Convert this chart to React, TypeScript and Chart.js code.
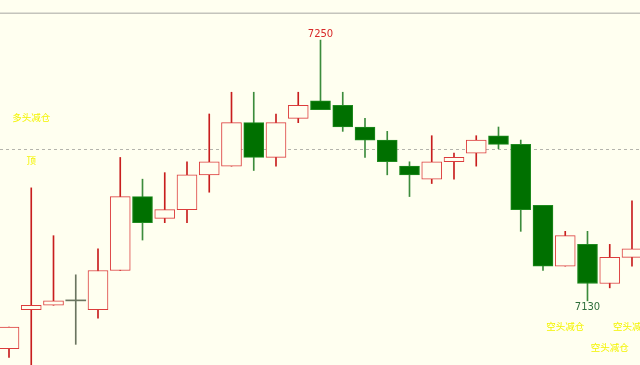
import React, { useEffect, useRef } from "react";
import { Chart, registerables } from "chart.js";

Chart.register(...registerables);

const opens = [7108, 7126, 7128, 7130, 7126, 7144, 7178, 7168, 7172, 7188, 7192, 7212, 7196, 7214, 7222, 7220, 7210, 7204, 7192, 7186, 7194, 7198, 7206, 7202, 7174, 7146, 7156, 7138, 7150];
const highs = [7118, 7182, 7160, 7142, 7154, 7196, 7186, 7189, 7194, 7216, 7226, 7226, 7216, 7226, 7250, 7226, 7214, 7208, 7194, 7206, 7198, 7206, 7210, 7204, 7174, 7162, 7162, 7156, 7176];
const lows = [7104, 7096, 7128, 7110, 7122, 7144, 7158, 7166, 7166, 7180, 7192, 7190, 7192, 7212, 7218, 7208, 7196, 7188, 7178, 7184, 7186, 7192, 7200, 7162, 7144, 7146, 7130, 7136, 7146];
const closes = [7118, 7128, 7130, 7130, 7144, 7178, 7166, 7172, 7188, 7194, 7212, 7196, 7212, 7220, 7218, 7210, 7204, 7194, 7188, 7194, 7196, 7204, 7202, 7172, 7146, 7160, 7138, 7150, 7154];

const refLevel = 7200;
const yMin = 7100.5;
const yMax = 7262;

// price labels: [candle index, which extreme, text]
const priceMarks: [number, string, string][] = [
  [14, "high", "7250"],
  [26, "low", "7130"],
];
// notes: [candle index, price, text]
const notes: [number, number, string][] = [
  [1, 7214.5, "多头减仓"],
  [1, 7194.6, "顶"],
  [25, 7118.2, "空头减仓"],
  [27, 7108.5, "空头减仓"],
  [28, 7118.2, "空头减仓"],
];

const BG = "#fffff0";
const RED_WICK = "#c81e1e";
const RED_BORDER = "#dc3c3c";
const GREEN_FILL = "#007000";
const GREEN_WICK = "#3c8c3c";
const DOJI = "#6b7560";

export default function App() {
  const ref = useRef<HTMLCanvasElement | null>(null);

  useEffect(() => {
    if (!ref.current) return;
    const kind = opens.map((o, i) => (closes[i] > o ? "up" : closes[i] < o ? "down" : "flat"));
    const wickData = opens.map((_, i) => ({ x: i, y: [lows[i], highs[i]] }));
    const bodyData = opens.map((o, i) => ({ x: i, y: [o, closes[i]] }));

    const deco = {
      id: "deco",
      beforeDraw(chart: any) {
        const { ctx, width, height } = chart;
        ctx.save();
        ctx.fillStyle = BG;
        ctx.fillRect(0, 0, width, height);
        ctx.fillStyle = "#c4c4bc";
        ctx.fillRect(0, chart.chartArea.top - 1.5, width, 1.5);
        const y = Math.round(chart.scales.y.getPixelForValue(refLevel)) + 0.5;
        ctx.strokeStyle = "#b4b4ac";
        ctx.lineWidth = 1;
        ctx.setLineDash([3, 3]);
        ctx.beginPath();
        ctx.moveTo(0, y);
        ctx.lineTo(width, y);
        ctx.stroke();
        ctx.restore();
      },
      afterDatasetsDraw(chart: any) {
        const { ctx } = chart;
        const xs = chart.scales.x;
        const ys = chart.scales.y;
        ctx.save();
        ctx.textAlign = "center";
        ctx.font = "10px 'DejaVu Sans', sans-serif";
        for (const [i, which, txt] of priceMarks) {
          const x = xs.getPixelForValue(i);
          if (which === "high") {
            ctx.fillStyle = "#d82828";
            ctx.textBaseline = "bottom";
            ctx.fillText(txt, x, ys.getPixelForValue(highs[i]) - 1);
          } else {
            ctx.fillStyle = "#2e6e3a";
            ctx.textBaseline = "top";
            ctx.fillText(txt, x, ys.getPixelForValue(lows[i]) + 2);
          }
        }
        ctx.font = "9.5px 'Noto Sans CJK SC', sans-serif";
        ctx.fillStyle = "#f4f400";
        ctx.textBaseline = "middle";
        for (const [i, p, txt] of notes) {
          ctx.fillText(txt, xs.getPixelForValue(i), ys.getPixelForValue(p));
        }
        ctx.restore();
      },
    };

    const chart = new Chart(ref.current, {
      type: "bar",
      data: {
        datasets: [
          {
            label: "wick",
            data: wickData as any,
            order: 2,
            grouped: false,
            barThickness: 1,
            backgroundColor: kind.map((k) => (k === "up" ? RED_WICK : k === "down" ? GREEN_WICK : DOJI)),
            borderWidth: 0,
          } as any,
          {
            label: "body",
            data: bodyData as any,
            order: 1,
            grouped: false,
            barThickness: 20,
            minBarLength: 1,
            borderSkipped: false,
            borderWidth: kind.map((k) => (k === "flat" ? 0 : 1)),
            backgroundColor: kind.map((k) => (k === "up" ? BG : k === "down" ? GREEN_FILL : DOJI)),
            borderColor: kind.map((k) => (k === "up" ? RED_BORDER : k === "down" ? "#1f8a1f" : DOJI)),
          } as any,
        ],
      },
      options: {
        responsive: false,
        animation: false,
        devicePixelRatio: 1,
        layout: { padding: { top: 14, left: 0, right: 0, bottom: 0 } },
        plugins: { legend: { display: false }, tooltip: { enabled: false } },
        scales: {
          x: { type: "linear", display: false, min: -0.4045, max: 28.36, offset: false },
          y: { type: "linear", display: false, min: yMin, max: yMax },
        },
      },
      plugins: [deco],
    });
    return () => chart.destroy();
  }, []);

  return (
    <div style={{ position: "absolute", left: 0, top: 0, width: 640, height: 365 }}>
      <canvas ref={ref} width={640} height={365} style={{ display: "block", width: 640, height: 365 }} />
    </div>
  );
}
